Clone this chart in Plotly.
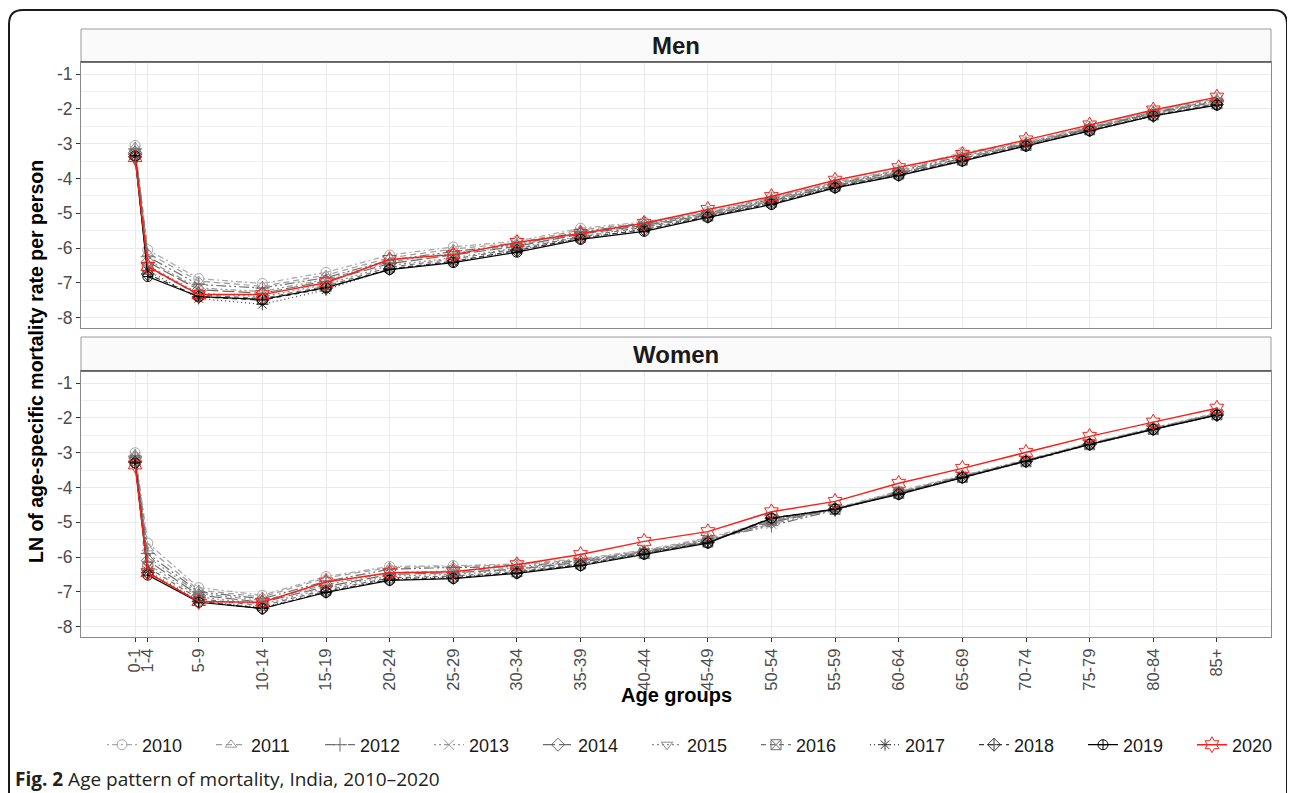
import plotly.graph_objects as go

## Data
ages = [0, 1, 5, 10, 15, 20, 25, 30, 35, 40, 45, 50, 55, 60, 65, 70, 75, 80, 85]
age_labels = ["0-1", "1-4", "5-9", "10-14", "15-19", "20-24", "25-29", "30-34", "35-39",
              "40-44", "45-49", "50-54", "55-59", "60-64", "65-69", "70-74", "75-79",
              "80-84", "85+"]
years = [2010, 2011, 2012, 2013, 2014, 2015, 2016, 2017, 2018, 2019, 2020]

# LN of age-specific mortality, men
men = {
    2010: [-3.05, -6.05, -6.88, -7.02, -6.70, -6.20, -5.97, -5.80, -5.43, -5.25, -4.95, -4.55, -4.10, -3.75, -3.25, -2.95, -2.50, -2.05, -1.68],
    2011: [-3.10, -6.15, -6.95, -7.10, -6.78, -6.28, -6.03, -5.85, -5.48, -5.28, -4.97, -4.57, -4.12, -3.77, -3.30, -2.97, -2.52, -2.07, -1.71],
    2012: [-3.15, -6.25, -7.05, -7.15, -6.85, -6.35, -6.10, -5.90, -5.53, -5.30, -5.00, -4.60, -4.15, -3.80, -3.35, -3.00, -2.55, -2.10, -1.75],
    2013: [-3.20, -6.35, -7.15, -7.25, -6.90, -6.40, -6.15, -5.92, -5.57, -5.33, -5.02, -4.62, -4.17, -3.82, -3.38, -3.00, -2.55, -2.10, -1.78],
    2014: [-3.25, -6.40, -7.20, -7.30, -6.95, -6.45, -6.20, -5.95, -5.60, -5.35, -5.05, -4.65, -4.20, -3.85, -3.42, -3.02, -2.57, -2.12, -1.80],
    2015: [-3.28, -6.50, -7.30, -7.40, -7.05, -6.50, -6.28, -6.00, -5.65, -5.38, -5.05, -4.65, -4.20, -3.85, -3.45, -3.02, -2.58, -2.15, -1.82],
    2016: [-3.30, -6.55, -7.35, -7.45, -7.10, -6.55, -6.32, -6.02, -5.68, -5.40, -5.08, -4.68, -4.22, -3.87, -3.47, -3.05, -2.60, -2.17, -1.85],
    2017: [-3.35, -6.65, -7.45, -7.62, -7.20, -6.60, -6.40, -6.05, -5.72, -5.45, -5.10, -4.70, -4.25, -3.90, -3.50, -3.05, -2.62, -2.20, -1.88],
    2018: [-3.38, -6.75, -7.40, -7.50, -7.15, -6.60, -6.38, -6.07, -5.72, -5.47, -5.10, -4.72, -4.25, -3.90, -3.48, -3.05, -2.62, -2.20, -1.87],
    2019: [-3.35, -6.82, -7.40, -7.48, -7.14, -6.62, -6.42, -6.12, -5.75, -5.52, -5.12, -4.75, -4.27, -3.92, -3.50, -3.07, -2.63, -2.20, -1.89],
    2020: [-3.40, -6.53, -7.34, -7.34, -7.00, -6.33, -6.19, -5.84, -5.58, -5.29, -4.89, -4.52, -4.05, -3.69, -3.31, -2.89, -2.46, -2.03, -1.66],
}

# LN of age-specific mortality, women
women = {
    2010: [-3.00, -5.60, -6.88, -7.10, -6.56, -6.27, -6.25, -6.20, -6.05, -5.80, -5.45, -4.95, -4.60, -4.10, -3.65, -3.20, -2.72, -2.28, -1.85],
    2011: [-3.05, -5.75, -6.95, -7.15, -6.60, -6.30, -6.28, -6.22, -6.08, -5.82, -5.48, -4.98, -4.62, -4.12, -3.67, -3.22, -2.73, -2.30, -1.87],
    2012: [-3.10, -5.90, -7.00, -7.20, -6.70, -6.35, -6.30, -6.28, -6.10, -5.85, -5.50, -5.10, -4.65, -4.15, -3.68, -3.23, -2.75, -2.30, -1.88],
    2013: [-3.12, -6.00, -7.05, -7.25, -6.80, -6.45, -6.40, -6.32, -6.12, -5.85, -5.52, -5.05, -4.63, -4.15, -3.70, -3.24, -2.75, -2.31, -1.89],
    2014: [-3.15, -6.10, -7.10, -7.30, -6.85, -6.50, -6.45, -6.35, -6.15, -5.87, -5.55, -5.00, -4.62, -4.15, -3.70, -3.25, -2.76, -2.32, -1.90],
    2015: [-3.18, -6.20, -7.15, -7.35, -6.90, -6.55, -6.50, -6.38, -6.18, -5.88, -5.55, -4.95, -4.62, -4.16, -3.70, -3.25, -2.76, -2.32, -1.90],
    2016: [-3.22, -6.30, -7.20, -7.40, -6.95, -6.60, -6.55, -6.42, -6.20, -5.90, -5.57, -4.92, -4.63, -4.17, -3.71, -3.26, -2.77, -2.33, -1.91],
    2017: [-3.25, -6.40, -7.25, -7.45, -7.00, -6.62, -6.58, -6.45, -6.22, -5.90, -5.58, -4.90, -4.63, -4.18, -3.71, -3.26, -2.77, -2.33, -1.92],
    2018: [-3.28, -6.45, -7.28, -7.48, -7.00, -6.65, -6.60, -6.45, -6.23, -5.90, -5.58, -4.88, -4.62, -4.18, -3.71, -3.25, -2.76, -2.33, -1.92],
    2019: [-3.30, -6.52, -7.30, -7.48, -7.02, -6.67, -6.62, -6.47, -6.25, -5.92, -5.60, -4.88, -4.62, -4.20, -3.72, -3.25, -2.76, -2.33, -1.92],
    2020: [-3.35, -6.45, -7.28, -7.30, -6.72, -6.45, -6.42, -6.22, -5.93, -5.55, -5.27, -4.70, -4.40, -3.88, -3.45, -2.99, -2.53, -2.12, -1.72],
}

y_ticks = [-1, -2, -3, -4, -5, -6, -7, -8]
y_minor = [-1.5, -2.5, -3.5, -4.5, -5.5, -6.5, -7.5]

## Styles per year (colour, dash, marker)
styles = {
    2010: ("#A8A8A8", "2px,3px,6px,3px", "circle-open"),
    2011: ("#9C9C9C", "6px,4px", "triangle-up-open"),
    2012: ("#6E6E6E", "10px,3px,2px,3px,2px,3px", "cross-thin-open"),
    2013: ("#959595", "2px,3px,2px,3px,6px,3px", "x-thin-open"),
    2014: ("#6A6A6A", "12px,4px", "diamond-open"),
    2015: ("#8A8A8A", "2px,3px", "triangle-down-open"),
    2016: ("#707070", "5px,4px", "square-x-open"),
    2017: ("#3C3C3C", "1px,3px", "asterisk-open"),
    2018: ("#3A3A3A", "5px,4px", "diamond-cross-open"),
    2019: ("#000000", "solid", "circle-cross-open"),
    2020: ("#F5221A", "solid", "hexagram-open"),
}

# the page body has an 8px margin, so the figure is a bit smaller and offset
OFF = 8
W, H = 1295 - OFF, 793 - OFF
ML = 81 - OFF          # left margin = plot left edge
GW = W - ML
def px(x):
    return (x - OFF - ML) / GW
def py(y):
    return 1 - (y - OFF) / H

FONT = "Liberation Sans, Arial, sans-serif"

fig = go.Figure()

for panel, data in [("1", men), ("2", women)]:
    for yr in years:
        col, dash, sym = styles[yr]
        fig.add_trace(go.Scatter(
            x=ages, y=data[yr], mode="lines+markers", name=str(yr),
            xaxis="x" + ("" if panel == "1" else "2"),
            yaxis="y" + ("" if panel == "1" else "2"),
            showlegend=(panel == "1"), legendgroup=str(yr),
            legendwidth=40 if yr == 2020 else None,
            line=dict(color=col, dash=dash, width=1.5 if yr == 2020 else 1.2),
            marker=dict(symbol=sym, size=12 if yr == 2020 else 10, color=col,
                        line=dict(color=col, width=1)),
        ))

x_common = dict(
    range=[-4.25, 89.25], tickmode="array", tickvals=ages, ticktext=age_labels,
    showgrid=True, gridcolor="#EBEBEB", gridwidth=1.2, zeroline=False,
    showline=True, linecolor="#8A8A8A", linewidth=1, mirror=True,
    domain=[px(81), px(1271)],
)
y_common = dict(
    range=[-8.3, -0.65], tickmode="array", tickvals=y_ticks, ticktext=[str(v) for v in y_ticks],
    showgrid=True, gridcolor="#EBEBEB", gridwidth=1.2, zeroline=False,
    showline=True, linecolor="#8A8A8A", linewidth=1, mirror=True,
    ticks="outside", ticklen=4, tickcolor="#333333",
    tickfont=dict(family=FONT, size=17.5, color="#4D4D4D"),
    minor=dict(tickmode="array", tickvals=y_minor, showgrid=True, gridcolor="#F0F0F0",
               gridwidth=1, ticks=""),
)

fig.update_layout(
    width=W, height=H,
    margin=dict(l=ML, r=0, t=0, b=0, autoexpand=False),
    paper_bgcolor="white", plot_bgcolor="white",
    xaxis=dict(**x_common, anchor="y", matches="x2", showticklabels=False, ticks=""),
    xaxis2=dict(**x_common, anchor="y2", ticks="outside", ticklen=4, tickcolor="#333333",
                tickangle=-90, tickfont=dict(family=FONT, size=16.5, color="#4D4D4D")),
    yaxis=dict(**y_common, anchor="x", domain=[py(328), py(62)]),
    yaxis2=dict(**y_common, anchor="x2", domain=[py(637), py(371)]),
    legend=dict(orientation="h", x=px(102), xanchor="left", y=py(745), yanchor="middle",
                font=dict(family=FONT, size=18, color="#1A1A1A"),
                entrywidth=64, traceorder="normal", bgcolor="rgba(0,0,0,0)"),
    showlegend=True,
)

shapes = []
# facet strips
for top, bot in [(29, 62), (337, 371)]:
    shapes.append(dict(type="rect", xref="paper", yref="paper",
                       x0=px(81), x1=px(1271), y0=py(bot), y1=py(top),
                       fillcolor="#FAFAFA", line=dict(color="#9A9A9A", width=1), layer="below"))
    shapes.append(dict(type="line", xref="paper", yref="paper",
                       x0=px(81), x1=px(1271), y0=py(bot), y1=py(bot),
                       line=dict(color="#555555", width=1.5)))
# outer rounded frame
frame = (f"M {px(9)},{py(800)} L {px(9)},{py(24)} Q {px(9)},{py(10)} {px(23)},{py(10)} "
         f"L {px(1273)},{py(10)} Q {px(1287)},{py(10)} {px(1287)},{py(24)} L {px(1287)},{py(800)}")
shapes.append(dict(type="path", xref="paper", yref="paper", path=frame,
                   line=dict(color="#1A1A1A", width=2)))
fig.update_layout(shapes=shapes)

annotations = [
    dict(text="<b>Men</b>", x=px(676), y=py(46)),
    dict(text="<b>Women</b>", x=px(676), y=py(354)),
]
for a in annotations:
    a.update(font=dict(family=FONT, size=24, color="#1A1A1A"))
annotations += [
    dict(text="<b>LN of age-specific mortality rate per person</b>", x=px(36), y=py(362),
         textangle=-90, font=dict(family=FONT, size=19.5, color="#000000")),
    dict(text="<b>Age groups</b>", x=px(676), y=py(695),
         font=dict(family=FONT, size=20, color="#000000")),
    dict(text="<b>Fig. 2</b> Age pattern of mortality, India, 2010\u20132020",
         x=px(13), y=py(779), xanchor="left",
         font=dict(family="Open Sans, sans-serif", size=19, color="#231F20")),
]
for a in annotations:
    a.setdefault("xanchor", "center")
    a.update(xref="paper", yref="paper", yanchor="middle", showarrow=False)
fig.update_layout(annotations=annotations)

fig.write_html("out.html")
